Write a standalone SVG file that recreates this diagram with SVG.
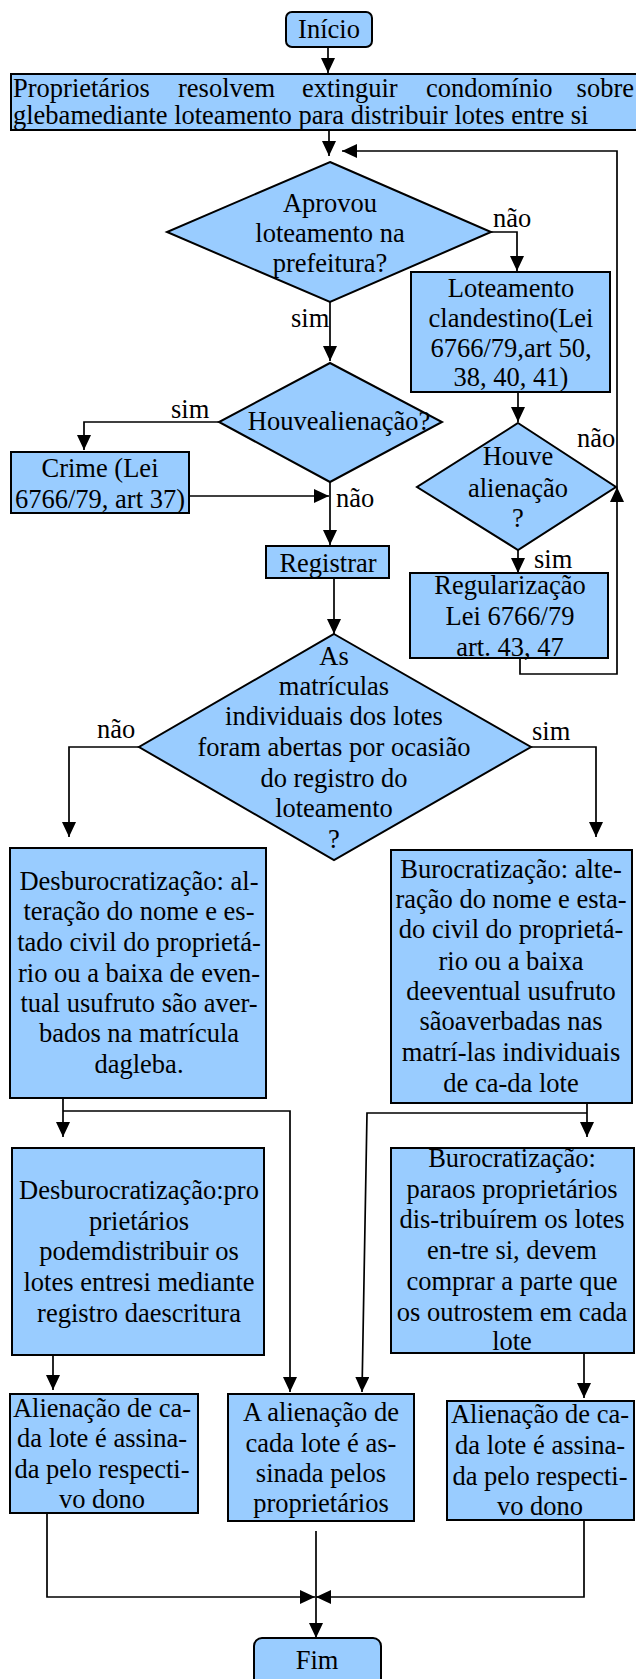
<svg xmlns="http://www.w3.org/2000/svg" width="636" height="1679" viewBox="0 0 636 1679" font-family="Liberation Serif, Times New Roman, Tinos, DejaVu Serif, serif">
<style>
.n{fill:#99ccff;stroke:#000;stroke-width:2}
text{font-family:'Liberation Serif','Times New Roman',Tinos,'DejaVu Serif',serif;font-size:26.5px;fill:#000}
.c{text-anchor:middle}
.l{fill:none;stroke:#000;stroke-width:1.7}
</style>
<defs>
<marker id="a" markerUnits="userSpaceOnUse" markerWidth="16" markerHeight="14" refX="15" refY="7" orient="auto"><path d="M0,0L15,7L0,14z" fill="#000"/></marker>
</defs>
<g id="connectors">
<path class="l" d="M328,47V73" marker-end="url(#a)"/>
<path class="l" d="M329,130V156" marker-end="url(#a)"/>
<path class="l" d="M491,232H517V271" marker-end="url(#a)"/>
<path class="l" d="M330,302V361" marker-end="url(#a)"/>
<path class="l" d="M219,422H84V450" marker-end="url(#a)"/>
<path class="l" d="M189,496H329" marker-end="url(#a)"/>
<path class="l" d="M330,482V545" marker-end="url(#a)"/>
<path class="l" d="M518,392V422" marker-end="url(#a)"/>
<path class="l" d="M518,550V573" marker-end="url(#a)"/>
<path class="l" d="M520,658V674H617V487" marker-end="url(#a)"/>
<path class="l" d="M617,487V151H342" marker-end="url(#a)"/>
<path class="l" d="M334,578V634" marker-end="url(#a)"/>
<path class="l" d="M139,747H69V837" marker-end="url(#a)"/>
<path class="l" d="M531,747H596V837" marker-end="url(#a)"/>
<path class="l" d="M63,1098V1137" marker-end="url(#a)"/>
<path class="l" d="M63,1111H290V1392" marker-end="url(#a)"/>
<path class="l" d="M587,1103V1137" marker-end="url(#a)"/>
<path class="l" d="M587,1113H367L362,1392" marker-end="url(#a)"/>
<path class="l" d="M53,1355V1390" marker-end="url(#a)"/>
<path class="l" d="M584,1353V1398" marker-end="url(#a)"/>
<path class="l" d="M47,1513V1597H315" marker-end="url(#a)"/>
<path class="l" d="M584,1520V1597H316" marker-end="url(#a)"/>
<path class="l" d="M316,1531V1638" marker-end="url(#a)"/>
<text x="493" y="227">não</text>
<text x="291" y="327">sim</text>
<text x="171" y="418">sim</text>
<text x="336" y="507">não</text>
<text x="577" y="447">não</text>
<text x="534" y="568">sim</text>
<text x="97" y="738">não</text>
<text x="532" y="740">sim</text>
</g>
<g id="inicio">
<rect class="n" x="286" y="12" width="86" height="35" rx="6"/>
<text class="c" x="329" y="38">Início</text>
</g>
<g id="proprietarios">
<rect class="n" x="11" y="74" width="626" height="56"/>
<text x="13" y="97">Proprietários</text>
<text x="178" y="97">resolvem</text>
<text x="302" y="97">extinguir</text>
<text x="426" y="97">condomínio</text>
<text x="634" y="97" text-anchor="end">sobre</text>
<text x="13" y="124">glebamediante loteamento para distribuir lotes entre si</text>
</g>
<g id="aprovou">
<polygon class="n" points="330,162 491,232 330,302 167,232"/>
<text class="c" x="330" y="212">Aprovou</text>
<text class="c" x="330" y="242">loteamento na</text>
<text class="c" x="330" y="272">prefeitura?</text>
</g>
<g id="clandestino">
<rect class="n" x="411" y="272" width="199" height="120"/>
<text class="c" x="511" y="297">Loteamento</text>
<text class="c" x="511" y="327">clandestino(Lei</text>
<text class="c" x="511" y="357">6766/79,art 50,</text>
<text class="c" x="511" y="386">38, 40, 41)</text>
</g>
<g id="houve1">
<polygon class="n" points="330,363 442,422 330,482 219,422"/>
<text class="c" x="339" y="430">Houvealienação?</text>
</g>
<g id="crime">
<rect class="n" x="11" y="452" width="178" height="61"/>
<text class="c" x="100" y="477">Crime (Lei</text>
<text class="c" x="100" y="508">6766/79, art 37)</text>
</g>
<g id="houve2">
<polygon class="n" points="518,423 616,487 518,550 417,487"/>
<text class="c" x="518" y="465">Houve</text>
<text class="c" x="518" y="497">alienação</text>
<text class="c" x="518" y="527">?</text>
</g>
<g id="regularizacao">
<rect class="n" x="410" y="573" width="198" height="85"/>
<text class="c" x="510" y="594">Regularização</text>
<text class="c" x="510" y="625">Lei 6766/79</text>
<text class="c" x="510" y="656">art. 43, 47</text>
</g>
<g id="registrar">
<rect class="n" x="266" y="546" width="123" height="32"/>
<text class="c" x="328" y="572">Registrar</text>
</g>
<g id="matriculas">
<polygon class="n" points="334,634 531,747 334,860 139,747"/>
<text class="c" x="334" y="665">As</text>
<text class="c" x="334" y="695">matrículas</text>
<text class="c" x="334" y="725">individuais dos lotes</text>
<text class="c" x="334" y="756">foram abertas por ocasião</text>
<text class="c" x="334" y="787">do registro do</text>
<text class="c" x="334" y="817">loteamento</text>
<text class="c" x="334" y="848">?</text>
</g>
<g id="desburo1">
<rect class="n" x="10" y="848" width="256" height="250"/>
<text class="c" x="139" y="890">Desburocratização: al-</text>
<text class="c" x="139" y="920">teração do nome e es-</text>
<text class="c" x="139" y="951">tado civil do proprietá-</text>
<text class="c" x="139" y="982">rio ou a baixa de even-</text>
<text class="c" x="139" y="1012">tual usufruto são aver-</text>
<text class="c" x="139" y="1042">bados na matrícula</text>
<text class="c" x="139" y="1073">dagleba.</text>
</g>
<g id="buro1">
<rect class="n" x="391" y="850" width="241" height="253"/>
<text class="c" x="511" y="878">Burocratização: alte-</text>
<text class="c" x="511" y="908">ração do nome e esta-</text>
<text class="c" x="511" y="938">do civil do proprietá-</text>
<text class="c" x="511" y="970">rio ou a baixa</text>
<text class="c" x="511" y="1000">deeventual usufruto</text>
<text class="c" x="511" y="1030">sãoaverbadas nas</text>
<text class="c" x="511" y="1061">matrí-las individuais</text>
<text class="c" x="511" y="1092">de ca-da lote</text>
</g>
<g id="desburo2">
<rect class="n" x="12" y="1148" width="252" height="207"/>
<text class="c" x="139" y="1199">Desburocratização:pro</text>
<text class="c" x="139" y="1230">prietários</text>
<text class="c" x="139" y="1260">podemdistribuir os</text>
<text class="c" x="139" y="1291">lotes entresi mediante</text>
<text class="c" x="139" y="1322">registro daescritura</text>
</g>
<g id="buro2">
<rect class="n" x="391" y="1148" width="243" height="205"/>
<text class="c" x="512" y="1167">Burocratização:</text>
<text class="c" x="512" y="1198">paraos proprietários</text>
<text class="c" x="512" y="1228">dis-tribuírem os lotes</text>
<text class="c" x="512" y="1259">en-tre si, devem</text>
<text class="c" x="512" y="1290">comprar a parte que</text>
<text class="c" x="512" y="1321">os outrostem em cada</text>
<text class="c" x="512" y="1350">lote</text>
</g>
<g id="alienacao1">
<rect class="n" x="10" y="1394" width="188" height="119"/>
<text class="c" x="102" y="1417">Alienação de ca-</text>
<text class="c" x="102" y="1447">da lote é assina-</text>
<text class="c" x="102" y="1478">da pelo respecti-</text>
<text class="c" x="102" y="1508">vo dono</text>
</g>
<g id="alienacao2">
<rect class="n" x="228" y="1394" width="186" height="127"/>
<text class="c" x="321" y="1421">A alienação de</text>
<text class="c" x="321" y="1452">cada lote é as-</text>
<text class="c" x="321" y="1482">sinada pelos</text>
<text class="c" x="321" y="1512">proprietários</text>
</g>
<g id="alienacao3">
<rect class="n" x="447" y="1401" width="187" height="119"/>
<text class="c" x="540" y="1423">Alienação de ca-</text>
<text class="c" x="540" y="1454">da lote é assina-</text>
<text class="c" x="540" y="1485">da pelo respecti-</text>
<text class="c" x="540" y="1515">vo dono</text>
</g>
<g id="fim">
<rect class="n" x="254" y="1638" width="127" height="52" rx="8"/>
<text class="c" x="317" y="1669">Fim</text>
</g>
</svg>
